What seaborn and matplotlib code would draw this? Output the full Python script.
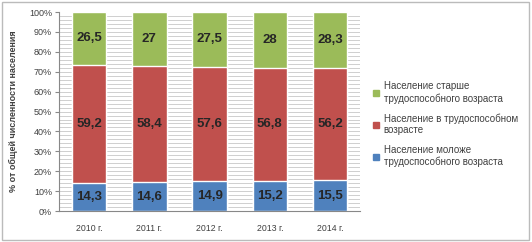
import numpy as np
import pandas as pd
import seaborn as sns
import matplotlib.pyplot as plt
from matplotlib.patches import Patch, Rectangle

years = ["2010 г.", "2011 г.", "2012 г.", "2013 г.", "2014 г."]
young = [14.3, 14.6, 14.9, 15.2, 15.5]
working = [59.2, 58.4, 57.6, 56.8, 56.2]
old = [26.5, 27, 27.5, 28, 28.3]
labels = ["Население старше\nтрудоспособного возраста",
          "Население в трудоспособном\nвозрасте",
          "Население моложе\nтрудоспособного возраста"]
colors = ["#9BBB59", "#C0504D", "#4F81BD"]

sns.set_style("white")
plt.rcParams['font.family'] = ['Liberation Sans', 'DejaVu Sans']

df = pd.DataFrame({"year": years, "young": young, "working": working, "old": old})
df["mid"] = df["young"] + df["working"]
df["top"] = df["mid"] + df["old"]

fig = plt.figure(figsize=(5.32, 2.42), dpi=100)
ax = fig.add_axes([0.111, 0.128, 0.566, 0.822])

# striped background
for y in np.arange(2, 100, 2):
    ax.axhline(y, color="#c8c8c8", lw=0.6, zorder=0)

sns.barplot(data=df, x="year", y="top", color=colors[0], width=0.57, saturation=1, ax=ax, zorder=2)
sns.barplot(data=df, x="year", y="mid", color=colors[1], width=0.57, saturation=1, ax=ax, zorder=2)
sns.barplot(data=df, x="year", y="young", color=colors[2], width=0.57, saturation=1, ax=ax, zorder=2)

fmt = lambda v: f"{v:g}".replace(".", ",")
for i in range(len(years)):
    ax.text(i, young[i] / 2, fmt(young[i]), ha="center", va="center", fontsize=9.5, fontweight="bold", zorder=3)
    ax.text(i, young[i] + working[i] / 2, fmt(working[i]), ha="center", va="center", fontsize=9.5, fontweight="bold", zorder=3)
    ax.text(i, young[i] + working[i] + old[i] / 2, fmt(old[i]), ha="center", va="center", fontsize=9.5, fontweight="bold", zorder=3)

ax.set_ylim(0, 100)
ax.set_xlim(-0.5, 4.5)
ax.set_yticks(range(0, 101, 10))
ax.set_yticklabels([f"{v}%" for v in range(0, 101, 10)], fontsize=6.5, color="#404040")
ax.tick_params(axis="x", labelsize=6.3, colors="#404040", length=0, pad=9)
ax.tick_params(axis="y", length=3, color="#888888", pad=2, left=True)
ax.set_xlabel("")
ax.set_ylabel("% от общей численности населения", fontsize=6.5, fontweight="bold", color="#404040", labelpad=8)
for s in ["top", "right"]:
    ax.spines[s].set_visible(False)
for s in ["left", "bottom"]:
    ax.spines[s].set_color("#888888")
    ax.spines[s].set_linewidth(0.8)

handles = [Patch(color=c) for c in colors]
fig.legend(handles, labels, loc="upper left", bbox_to_anchor=(0.685, 0.7), frameon=False,
           fontsize=7, handlelength=0.6, handleheight=0.6, handletextpad=0.5,
           labelspacing=1.0, labelcolor="#404040")

fig.patches.append(Rectangle((0.004, 0.008), 0.99, 0.985, transform=fig.transFigure,
                             fill=False, edgecolor="#bbbbbb", lw=1))

fig.savefig("out.png", dpi=100)
